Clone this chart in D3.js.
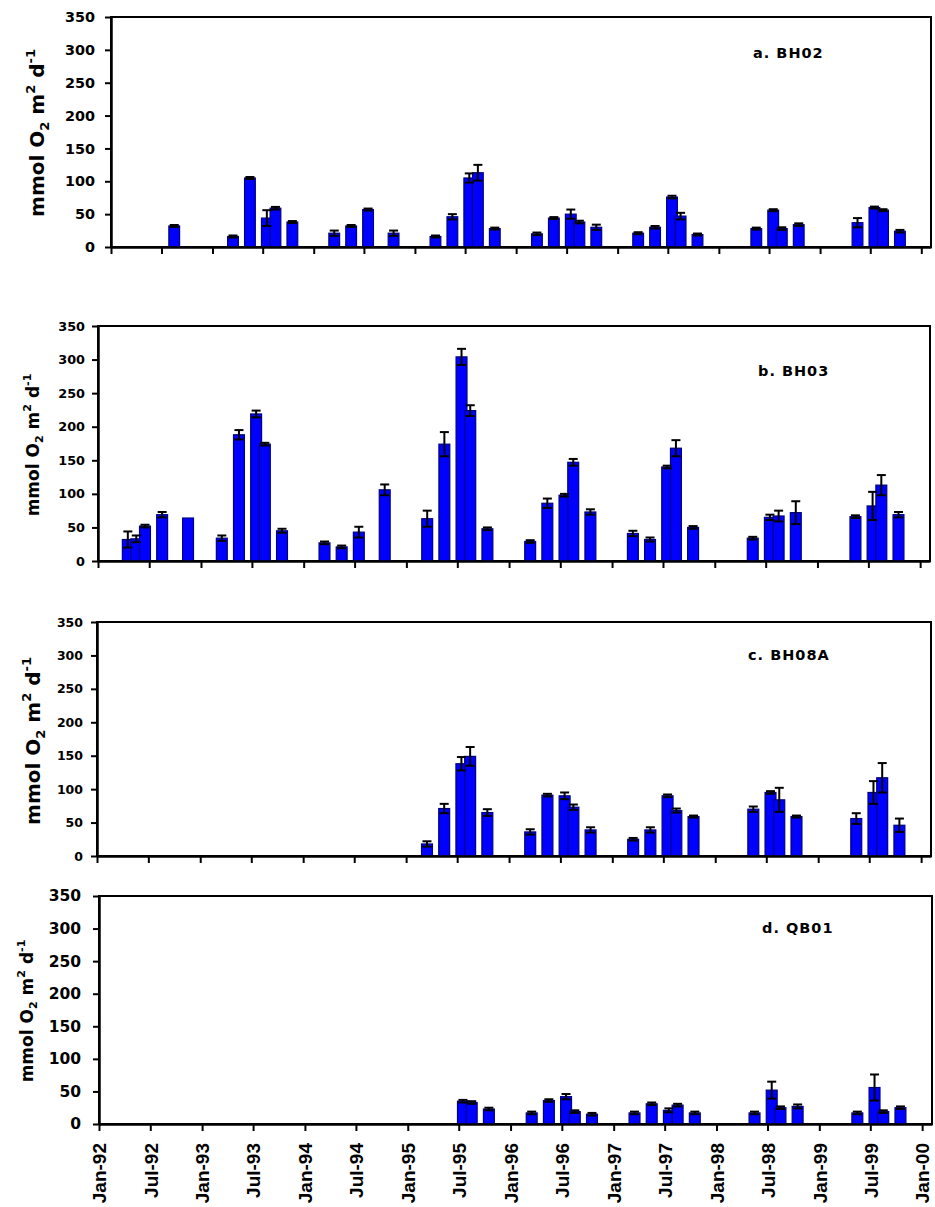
<!DOCTYPE html>
<html>
<head>
<meta charset="utf-8">
<script src="https://cdn.jsdelivr.net/npm/d3@7"></script>
<style>
  body { margin: 0; background: #fff; }
  .tick text { font-family: "DejaVu Sans", sans-serif; font-weight: bold; fill: #000; }
</style>
</head>
<body>
<div id="chart"></div>
<script>
// sampling months (bars are centred on the middle of the month)
var bh02Dates = ["1992-08", "1993-03", "1993-05", "1993-07", "1993-08", "1993-10",
  "1994-03", "1994-05", "1994-07", "1994-10", "1995-03", "1995-05", "1995-07", "1995-08", "1995-10",
  "1996-03", "1996-05", "1996-07", "1996-08", "1996-10", "1997-03", "1997-05", "1997-07", "1997-08", "1997-10",
  "1998-05", "1998-07", "1998-08", "1998-10", "1999-05", "1999-07", "1999-08", "1999-10"];
var bh02Values = [32, 16, 105, 44, 59, 38, 21, 32, 57, 21, 16, 46, 105, 113, 28,
  20, 44, 50, 38, 30, 21, 30, 76, 47, 19, 28, 56, 28, 34, 37, 60, 56, 24];
var bh02Errors = [1.5, 1.5, 1.5, 12, 2, 1.5, 4, 1.5, 1.5, 4, 1.5, 4, 7, 12, 1.5,
  2, 1.5, 7, 2, 4, 1.5, 2, 2, 5, 1.5, 1.5, 1.5, 2, 2, 7, 1.5, 1.5, 2];

var bh03Dates = ["1992-04", "1992-05", "1992-06", "1992-08", "1992-11", "1993-03", "1993-05", "1993-07", "1993-08", "1993-10",
  "1994-03", "1994-05", "1994-07", "1994-10", "1995-03", "1995-05", "1995-07", "1995-08", "1995-10",
  "1996-03", "1996-05", "1996-07", "1996-08", "1996-10", "1997-03", "1997-05", "1997-07", "1997-08", "1997-10",
  "1998-05", "1998-07", "1998-08", "1998-10", "1999-05", "1999-07", "1999-08", "1999-10"];
var bh03Values = [32, 33, 52, 69, 64, 34, 188, 219, 174, 45, 27, 21, 43, 106, 63, 174, 304, 224, 48,
  29, 86, 98, 147, 73, 41, 32, 140, 168, 50, 34, 65, 67, 72, 66, 82, 113, 69];
var bh03Errors = [12, 5, 2, 4, 0, 4, 7, 5, 2, 3, 2, 2, 8, 8, 12, 18, 12, 8, 2,
  2, 7, 2, 5, 4, 4, 3, 2, 12, 2, 2, 4, 8, 17, 2, 21, 15, 4];

var bh08aDates = ["1995-03", "1995-05", "1995-07", "1995-08", "1995-10",
  "1996-03", "1996-05", "1996-07", "1996-08", "1996-10", "1997-03", "1997-05", "1997-07", "1997-08", "1997-10",
  "1998-05", "1998-07", "1998-08", "1998-10", "1999-05", "1999-07", "1999-08", "1999-10"];
var bh08aValues = [18, 71, 138, 149, 65, 36, 91, 90, 73, 39, 25, 39, 90, 68, 59, 70, 95, 84, 59, 56, 95, 117, 46];
var bh08aErrors = [4, 7, 10, 14, 5, 4, 2, 5, 4, 4, 2, 4, 2, 3, 1.5, 4, 2, 18, 1.5, 8, 17, 22, 10];

var qb01Dates = ["1995-07", "1995-08", "1995-10",
  "1996-03", "1996-05", "1996-07", "1996-08", "1996-10", "1997-03", "1997-05", "1997-07", "1997-08", "1997-10",
  "1998-05", "1998-07", "1998-08", "1998-10", "1999-05", "1999-07", "1999-08", "1999-10"];
var qb01Values = [35, 33, 23, 17, 36, 42, 19, 15, 17, 31, 21, 29, 17, 17, 52, 25, 27, 17, 56, 19, 25];
var qb01Errors = [2, 2, 2, 2, 2, 4, 2, 2, 2, 2, 3, 2, 2, 2, 13, 2, 3, 2, 20, 2, 2];

var yTicks = [0, 50, 100, 150, 200, 250, 300, 350];

var panels = [
  { label: "a. BH02", dates: bh02Dates, values: bh02Values, errors: bh02Errors,
    left: 111, right: 931, top: 17, bottom: 247, lx: 753, ly: 58, tx: 37, ty: 133, tSize: 20, kSize: 14.4, kPad: 10, xLabels: false },
  { label: "b. BH03", dates: bh03Dates, values: bh03Values, errors: bh03Errors,
    left: 98, right: 930, top: 326, bottom: 561, lx: 758, ly: 376, tx: 33, ty: 445, tSize: 17, kSize: 12.8, kPad: 7, xLabels: false },
  { label: "c. BH08A", dates: bh08aDates, values: bh08aValues, errors: bh08aErrors,
    left: 97, right: 931, top: 622, bottom: 856, lx: 748, ly: 660, tx: 33, ty: 741, tSize: 20, kSize: 12.5, kPad: 8, xLabels: false },
  { label: "d. QB01", dates: qb01Dates, values: qb01Values, errors: qb01Errors,
    left: 99, right: 932, top: 896, bottom: 1124, lx: 762, ly: 933, tx: 27, ty: 1011, tSize: 17, kSize: 15.5, kPad: 12, xLabels: true }
];

var parseMonth = d3.timeParse("%Y-%m");
var fmt = d3.timeFormat("%b-%y");

var svg = d3.select("#chart")
  .append("svg")
  .attr("width", 935)
  .attr("height", 1207);

panels.forEach(function (p) {
  var x = d3.scaleTime()
    .domain([new Date(1992, 0, 1), new Date(2000, 1, 5)])
    .range([p.left, p.right]);
  var y = d3.scaleLinear()
    .domain([0, 350])
    .range([p.bottom, p.top]);

  var monthW = x(new Date(1992, 1, 1)) - x(new Date(1992, 0, 1));
  var barW = monthW * 1.25;

  var data = p.dates.map(function (d, i) {
    var m = parseMonth(d);
    return { date: d3.timeDay.offset(m, 15), value: p.values[i], err: p.errors[i] };
  });

  var g = svg.append("g");

  // frame
  g.append("rect")
    .attr("x", p.left)
    .attr("y", p.top)
    .attr("width", p.right - p.left)
    .attr("height", p.bottom - p.top)
    .attr("fill", "none")
    .attr("stroke", "#000")
    .attr("stroke-width", 2);

  // bars
  g.selectAll(".bar")
    .data(data)
    .join("rect")
    .attr("x", d => x(d.date) - barW / 2)
    .attr("y", d => y(d.value))
    .attr("width", barW)
    .attr("height", d => y(0) - y(d.value))
    .attr("fill", "#0000ff")
    .attr("stroke", "#000080")
    .attr("stroke-width", 1.2);

  // error bars
  var eb = g.selectAll(".err")
    .data(data.filter(d => d.err > 0))
    .join("g")
    .attr("stroke", "#000")
    .attr("stroke-width", 2);
  eb.append("line")
    .attr("x1", d => x(d.date)).attr("x2", d => x(d.date))
    .attr("y1", d => y(d.value - d.err)).attr("y2", d => y(d.value + d.err));
  eb.append("line")
    .attr("x1", d => x(d.date) - 4.5).attr("x2", d => x(d.date) + 4.5)
    .attr("y1", d => y(d.value + d.err)).attr("y2", d => y(d.value + d.err));
  eb.append("line")
    .attr("x1", d => x(d.date) - 4.5).attr("x2", d => x(d.date) + 4.5)
    .attr("y1", d => y(d.value - d.err)).attr("y2", d => y(d.value - d.err));

  // Y axis
  var ya = g.append("g")
    .attr("transform", "translate(" + p.left + ",0)")
    .call(d3.axisLeft(y).tickValues(yTicks).tickSize(6).tickSizeOuter(0).tickPadding(p.kPad));
  ya.select(".domain").attr("stroke-width", 2.5);
  ya.selectAll(".tick line").attr("stroke-width", 2);
  ya.selectAll(".tick text").style("font-size", p.kSize + "px");

  // X axis
  var xa = g.append("g")
    .attr("transform", "translate(0," + p.bottom + ")")
    .call(d3.axisBottom(x).ticks(d3.timeMonth.every(6)).tickSize(7).tickSizeOuter(0)
      .tickFormat(p.xLabels ? fmt : ""));
  xa.select(".domain").attr("stroke-width", 2.5);
  xa.selectAll(".tick line").attr("stroke-width", 2);
  if (p.xLabels) {
    xa.selectAll(".tick text")
      .style("font-family", "'Liberation Sans', Arial, sans-serif")
      .style("font-size", "19px")
      .attr("text-anchor", "end")
      .attr("transform", "rotate(-90)")
      .attr("x", -19)
      .attr("y", 0)
      .attr("dy", "0.36em");
  }

  // panel label
  g.append("text")
    .attr("x", p.lx)
    .attr("y", p.ly)
    .style("font-family", "'DejaVu Sans', sans-serif")
    .style("font-weight", "bold")
    .style("font-size", "14.5px")
    .style("letter-spacing", "1px")
    .text(p.label);

  // y title
  var fs = p.tSize;
  var t = g.append("text")
    .attr("transform", "translate(" + p.tx + "," + p.ty + ") rotate(-90)")
    .attr("text-anchor", "middle")
    .attr("dy", "0.35em")
    .style("font-family", "'DejaVu Sans', sans-serif")
    .style("font-weight", "bold")
    .style("font-size", fs + "px");
  t.append("tspan").text("mmol O");
  t.append("tspan").style("font-size", (fs * 0.65) + "px").attr("dy", fs * 0.25).text("2");
  t.append("tspan").attr("dy", -fs * 0.25).text(" m");
  t.append("tspan").style("font-size", (fs * 0.65) + "px").attr("dy", -fs * 0.45).text("2");
  t.append("tspan").attr("dy", fs * 0.45).text(" d");
  t.append("tspan").style("font-size", (fs * 0.65) + "px").attr("dy", -fs * 0.45).text("-1");
});
</script>
</body>
</html>
